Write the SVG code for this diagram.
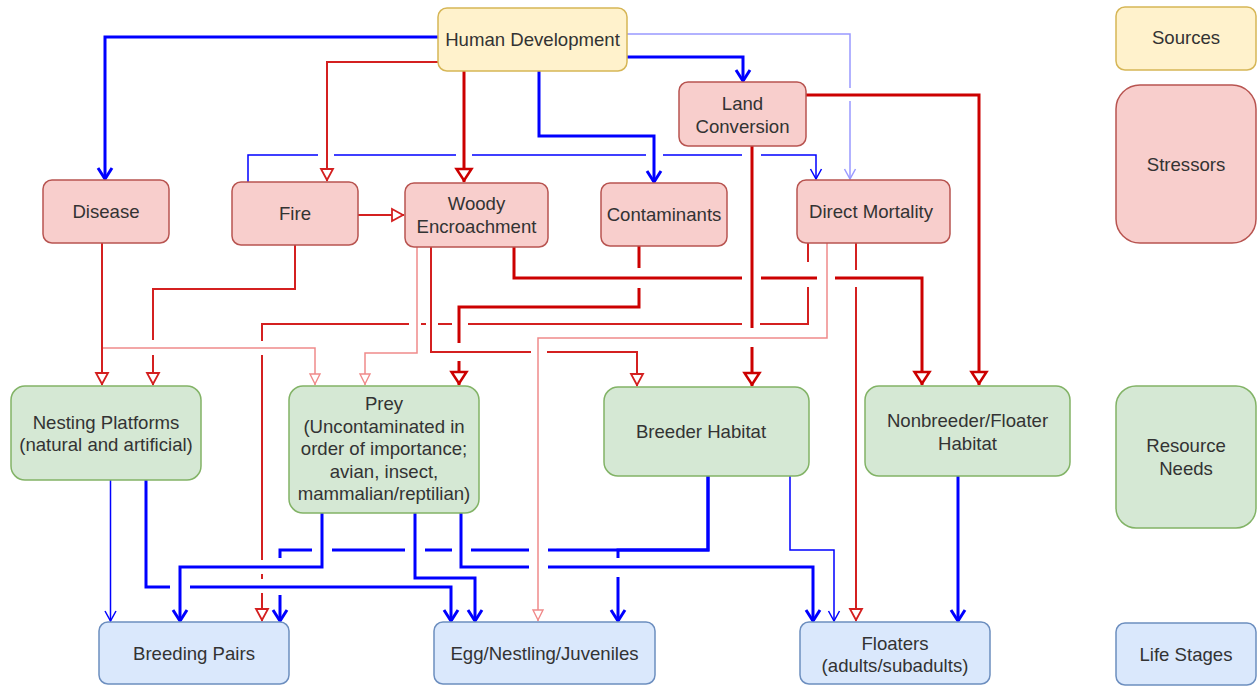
<svg xmlns="http://www.w3.org/2000/svg" width="1257" height="686" viewBox="0 0 1257 686">
<style>
.n rect{stroke-width:1.5}
.src rect{fill:#fff2cc;stroke:#d6b656}
.str rect{fill:#f8cecc;stroke:#b85450}
.res rect{fill:#d5e8d4;stroke:#82b366}
.lif rect{fill:#dae8fc;stroke:#6c8ebf}
text{font-family:"Liberation Sans",Arial,sans-serif;font-size:18.6px;fill:#333333;text-anchor:middle}
.c path{fill:none;stroke-linejoin:miter}
.bT{stroke:#0000ff;stroke-width:3}
.bN{stroke:#0000ff;stroke-width:1.5}
.bL{stroke:#9999ff;stroke-width:1.5}
.rT{stroke:#cc0000;stroke-width:3}
.rM{stroke:#d42020;stroke-width:2}
.rL{stroke:#f08a8a;stroke-width:1.5}
</style>
<defs>
<marker id="mbT" markerUnits="userSpaceOnUse" markerWidth="30" markerHeight="30" viewBox="-15 -15 30 30" refX="0" refY="0" orient="auto" overflow="visible"><path d="M-11,-7 L0,0 L-11,7" fill="none" stroke="#0000ff" stroke-width="3"/></marker>
<marker id="mbN" markerUnits="userSpaceOnUse" markerWidth="30" markerHeight="30" viewBox="-15 -15 30 30" refX="0" refY="0" orient="auto" overflow="visible"><path d="M-10,-5.5 L0,0 L-10,5.5" fill="none" stroke="#0000ff" stroke-width="1.5"/></marker>
<marker id="mbL" markerUnits="userSpaceOnUse" markerWidth="30" markerHeight="30" viewBox="-15 -15 30 30" refX="0" refY="0" orient="auto" overflow="visible"><path d="M-10,-5.5 L0,0 L-10,5.5" fill="none" stroke="#9999ff" stroke-width="1.5"/></marker>
<marker id="mrT" markerUnits="userSpaceOnUse" markerWidth="30" markerHeight="30" viewBox="-15 -15 30 30" refX="0" refY="0" orient="auto" overflow="visible"><path d="M-1.5,0 L-13,-7.5 L-13,7.5 Z" fill="#fff" stroke="#cc0000" stroke-width="2.5"/></marker>
<marker id="mrM" markerUnits="userSpaceOnUse" markerWidth="30" markerHeight="30" viewBox="-15 -15 30 30" refX="0" refY="0" orient="auto" overflow="visible"><path d="M-1,0 L-12,-6 L-12,6 Z" fill="#fff" stroke="#d42020" stroke-width="1.8"/></marker>
<marker id="mrL" markerUnits="userSpaceOnUse" markerWidth="30" markerHeight="30" viewBox="-15 -15 30 30" refX="0" refY="0" orient="auto" overflow="visible"><path d="M-1,0 L-11,-5 L-11,5 Z" fill="#fff" stroke="#f08a8a" stroke-width="1.4"/></marker>
</defs>

<g id="connectors" class="c">
<!-- blue from Human Development -->
<path class="bT" d="M438,37 H105 V179" marker-end="url(#mbT)"/>
<path class="bT" d="M627,57 H743 V81" marker-end="url(#mbT)"/>
<path class="bT" d="M539,71 V136 H654 V182" marker-end="url(#mbT)"/>
<path class="bL" d="M627,34 H850 V88 M850,101 V179" marker-end="url(#mbL)"/>
<path class="bN" d="M248,182 V155 H318 M334,155 H456 M472,155 H646 M663,155 H742 M761,155 H816 V179" marker-end="url(#mbN)"/>
<!-- red from Human Development / Land Conversion -->
<path class="rM" d="M438,62 H327 V181" marker-end="url(#mrM)"/>
<path class="rT" d="M464,71 V182" marker-end="url(#mrT)"/>
<path class="rT" d="M806,95 H979 V385" marker-end="url(#mrT)"/>
<path class="rT" d="M752,146 V328 M752,347 V386" marker-end="url(#mrT)"/>
<!-- Disease -->
<path class="rL" d="M102,243 V348 H315 V385" marker-end="url(#mrL)"/>
<path class="rM" d="M102,243 V385" marker-end="url(#mrM)"/>
<!-- Fire -->
<path class="rM" d="M295,245 V289 H153 V340 M153,355 V385" marker-end="url(#mrM)"/>
<path class="rM" d="M358,215 H404" marker-end="url(#mrM)"/>
<!-- Woody -->
<path class="rL" d="M417,247 V353 H365 V385" marker-end="url(#mrL)"/>
<path class="rM" d="M431,247 V352 H531 M547,352 H637 V386" marker-end="url(#mrM)"/>
<path class="rT" d="M514,247 V278 H742 M761,278 H817 M835,278 H922 V385" marker-end="url(#mrT)"/>
<!-- Contaminants -->
<path class="rT" d="M639,246 V268 M639,288 V307 H459 V343 M459,361 V385" marker-end="url(#mrT)"/>
<!-- Direct Mortality -->
<path class="rM" d="M808,243 V262 M808,287 V324 H760 M742,324 H468 M452,324 H438 M426,324 H421 M409,324 H262 V341 M262,355 V560 M262,574 V579 M262,593 V621" marker-end="url(#mrM)"/>
<path class="rL" d="M827,243 V338 H538 V621" marker-end="url(#mrL)"/>
<path class="rM" d="M856,243 V270 M856,287 V621" marker-end="url(#mrM)"/>
<!-- blue to life stages -->
<path class="bN" d="M110.5,480 V621" marker-end="url(#mbN)"/>
<path class="bT" d="M146,480 V587 H170 M190,587 H451 V621" marker-end="url(#mbT)"/>
<path class="bT" d="M322,513 V567 H180 V621" marker-end="url(#mbT)"/>
<path class="bT" d="M708,476 V550 H548 M529,550 H471 M452,550 H425 M405,550 H332 M312,550 H280 V558 M280,595 V621" marker-end="url(#mbT)"/>
<path class="bT" d="M708,476 V550 H618 V558 M618,577 V621" marker-end="url(#mbT)"/>
<path class="bT" d="M415,513 V578 H475 V621" marker-end="url(#mbT)"/>
<path class="bT" d="M461,513 V567 H529 M548,567 H813 V621" marker-end="url(#mbT)"/>
<path class="bN" d="M790,476 V550 H834 V621" marker-end="url(#mbN)"/>
<path class="bT" d="M958,476 V621" marker-end="url(#mbT)"/>
</g>

<g id="human-development" class="n src"><rect x="438" y="8" width="189" height="63" rx="9"/><text x="532.5" y="46">Human Development</text></g>
<g id="land-conversion" class="n str"><rect x="679" y="82" width="127" height="64" rx="9"/><text x="742.5" y="110">Land</text><text x="742.5" y="133">Conversion</text></g>
<g id="disease" class="n str"><rect x="43" y="180" width="126" height="63" rx="9"/><text x="106" y="218">Disease</text></g>
<g id="fire" class="n str"><rect x="232" y="182" width="126" height="63" rx="9"/><text x="295" y="219.5">Fire</text></g>
<g id="woody-encroachment" class="n str"><rect x="405" y="183" width="143" height="64" rx="9"/><text x="476.5" y="209.5">Woody</text><text x="476.5" y="233">Encroachment</text></g>
<g id="contaminants" class="n str"><rect x="601" y="183" width="126" height="63" rx="9"/><text x="664" y="220.5">Contaminants</text></g>
<g id="direct-mortality" class="n str"><rect x="797" y="180" width="153" height="63" rx="9"/><text x="871" y="218">Direct Mortality</text></g>
<g id="nesting-platforms" class="n res"><rect x="11" y="386" width="190" height="94" rx="14"/><text x="106" y="428.5">Nesting Platforms</text><text x="106" y="451">(natural and artificial)</text></g>
<g id="prey" class="n res"><rect x="289" y="386" width="190" height="127" rx="14"/><text x="384" y="410">Prey</text><text x="384" y="432.5">(Uncontaminated in</text><text x="384" y="455">order of importance;</text><text x="384" y="477.5">avian, insect,</text><text x="384" y="500">mammalian/reptilian)</text></g>
<g id="breeder-habitat" class="n res"><rect x="604" y="387" width="205" height="89" rx="14"/><text x="701" y="438">Breeder Habitat</text></g>
<g id="nonbreeder-habitat" class="n res"><rect x="865" y="386" width="205" height="90" rx="14"/><text x="967.5" y="427">Nonbreeder/Floater</text><text x="967.5" y="450">Habitat</text></g>
<g id="breeding-pairs" class="n lif"><rect x="99" y="622" width="190" height="62" rx="9"/><text x="194" y="660">Breeding Pairs</text></g>
<g id="egg-nestling-juveniles" class="n lif"><rect x="434" y="622" width="221" height="62" rx="9"/><text x="544.5" y="660">Egg/Nestling/Juveniles</text></g>
<g id="floaters" class="n lif"><rect x="800" y="622" width="190" height="62" rx="9"/><text x="895" y="649.5">Floaters</text><text x="895" y="672">(adults/subadults)</text></g>

<g id="legend-sources" class="n src"><rect x="1116" y="7" width="140" height="63" rx="9"/><text x="1186" y="44">Sources</text></g>
<g id="legend-stressors" class="n str"><rect x="1116" y="85" width="140" height="158" rx="24"/><text x="1186" y="170.5">Stressors</text></g>
<g id="legend-resource-needs" class="n res"><rect x="1116" y="386" width="140" height="142" rx="20"/><text x="1186" y="452">Resource</text><text x="1186" y="475">Needs</text></g>
<g id="legend-life-stages" class="n lif"><rect x="1116" y="623" width="140" height="62" rx="9"/><text x="1186" y="661">Life Stages</text></g>
</svg>
